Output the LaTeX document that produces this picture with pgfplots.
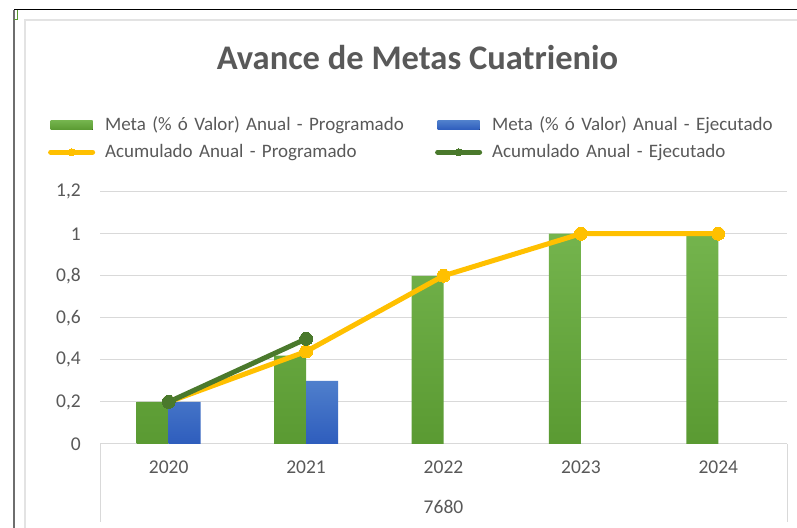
\documentclass[border=0pt]{standalone}
\usepackage{pgfplots}
\pgfplotsset{compat=1.18}
\usepackage{fontspec}
\setmainfont{Carlito}
\definecolor{txt}{HTML}{595959}
\definecolor{gridc}{HTML}{D9D9D9}
\definecolor{frameL}{HTML}{E3E3E3}
\definecolor{frameD}{HTML}{6E6E6E}
\definecolor{gTop}{HTML}{74B44D}
\definecolor{gBot}{HTML}{5A9A32}
\definecolor{bTop}{HTML}{4F7FCC}
\definecolor{bBot}{HTML}{2E5DBD}
\definecolor{yel}{HTML}{FFC000}
\definecolor{dgr}{HTML}{4A792C}
\pgfplotsset{
  barleg/.style={legend image code/.code={\fill[##1] (0bp,-4.5bp) rectangle (42bp,4.5bp);}},
  lineleg/.style={legend image code/.code={\draw[##1, mark size=3.5bp, mark repeat=2, mark phase=2] plot coordinates {(0bp,0bp) (21bp,0bp) (42bp,0bp)};}},
}
\begin{document}
\begin{tikzpicture}[x=1bp,y=1bp]
\useasboundingbox (0,0) rectangle (797,528);
\fill[white] (0,0) rectangle (797,528);
\draw[line width=2.2bp, draw=frameL] (25,0) -- (25,508) -- (797,508);
\draw[line width=2bp, draw=frameD] (14,0) -- (14,518);
\draw[line width=1bp, black] (14,518) -- (797,518);
\draw[line width=1.2bp, draw=gBot] (17.5,518) -- (17.5,508.5) -- (14,508.5);
\node[font=\fontsize{34.5bp}{40bp}\selectfont\bfseries, text=txt] at (417.5,470) {Avance de Metas Cuatrienio};
\begin{axis}[
  at={(100bp,84bp)}, anchor=south west, scale only axis,
  width=687bp, height=252.3bp,
  xmin=-0.5, xmax=4.5, ymin=0, ymax=1.2,
  xtick={0,1,2,3,4}, xticklabels={2020,2021,2022,2023,2024},
  ytick={0,0.2,0.4,0.6,0.8,1,1.2},
  /pgf/number format/use comma, /pgf/number format/fixed, /pgf/number format/precision=1,
  /pgf/number format/assume math mode=true,
  axis x line*=bottom, axis y line*=left,
  x axis line style={draw=gridc, line width=1bp, -},
  y axis line style={draw=none},
  major tick length=0pt,
  ymajorgrids, grid style={draw=gridc, line width=1bp},
  tick label style={font=\fontsize{19.5bp}{23bp}\selectfont, text=txt},
  xticklabel style={anchor=center, yshift=-23bp},
  yticklabel style={anchor=east, inner sep=0pt, xshift=-19bp},
  xlabel={7680},
  xlabel style={at={(axis description cs:0.5,0)}, anchor=center, yshift=-63bp, font=\fontsize{19.5bp}{23bp}\selectfont, text=txt},
  legend columns=2,
  legend style={at={(axis description cs:-0.0758,1.30)}, anchor=north west, draw=none, fill=none,
    inner sep=0pt, row sep=9bp,
    font=\fontsize{19bp}{23bp}\selectfont, text=txt,
    nodes={inner sep=0pt, text width=314bp, text height=14bp, text depth=4bp, align=left},
    /tikz/every odd column/.append style={column sep=10bp},
    /tikz/every even column/.append style={column sep=16bp}},
  legend cell align=left,
]
\addplot[ybar, bar width=32bp, bar shift=-16bp, draw=none, top color=gTop, bottom color=gBot, barleg]
  coordinates {(0,0.2) (1,0.42) (2,0.8) (3,1) (4,1)};
\addplot[ybar, bar width=32bp, bar shift=16bp, draw=none, top color=bTop, bottom color=bBot, barleg]
  coordinates {(0,0.2) (1,0.3)};
\addplot[sharp plot, draw=yel, line width=5bp, line join=round, line cap=round,
  mark=*, mark size=6.5bp, mark options={fill=yel, draw=yel, line width=0bp}, lineleg]
  coordinates {(0,0.2) (1,0.44) (2,0.8) (3,1) (4,1)};
\addplot[sharp plot, draw=dgr, line width=5bp, line join=round, line cap=round,
  mark=*, mark size=6.5bp, mark options={fill=dgr, draw=dgr, line width=0bp}, lineleg]
  coordinates {(0,0.2) (1,0.5)};
\legend{Meta (\% ó Valor) Anual - Programado, Meta (\% ó Valor) Anual - Ejecutado, Acumulado Anual - Programado, Acumulado Anual - Ejecutado}
\end{axis}
\draw[draw=gridc, line width=1bp] (100,84) -- (100,6);
\draw[draw=gridc, line width=1bp] (787,84) -- (787,6);
\end{tikzpicture}
\end{document}
